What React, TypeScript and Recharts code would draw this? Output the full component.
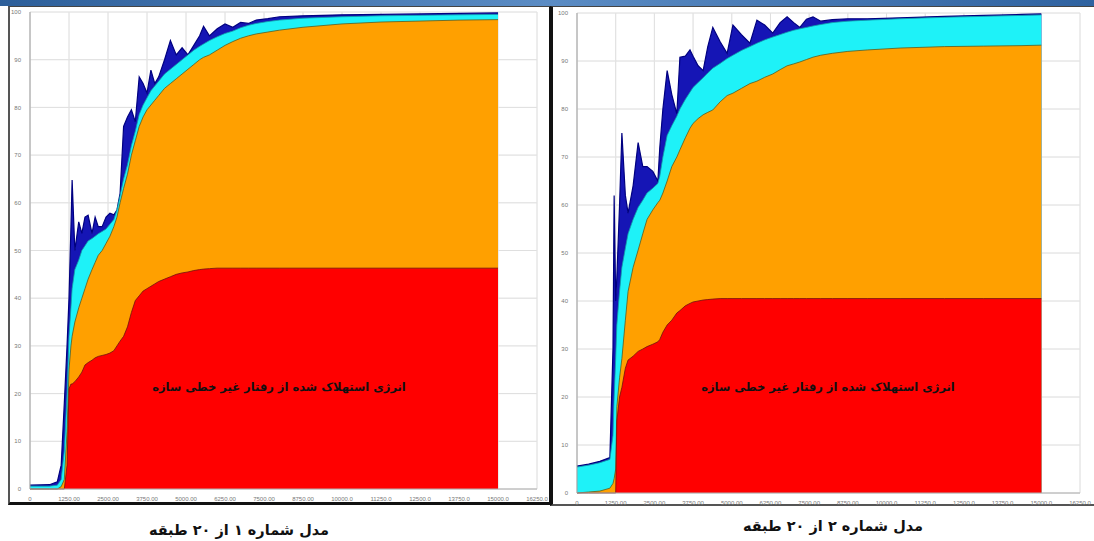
import { AreaChart, Area, XAxis, YAxis, CartesianGrid } from 'recharts';

// x in grid steps, values are the cumulative top of each energy band (%)
const xTicks = [0, 1, 2, 3, 4, 5, 6, 7, 8, 9, 10, 11, 12, 13];
const xTickLabels = ['0', '1250.00', '2500.00', '3750.00', '5000.00', '6250.00', '7500.00', '8750.00', '10000.0', '11250.0', '12500.0', '13750.0', '15000.0', '16250.0'];
const yTicks = [0, 10, 20, 30, 40, 50, 60, 70, 80, 90, 100];

const model1Time = [0, 0.5, 0.7, 0.8, 0.88, 0.95, 1.0, 1.05, 1.08, 1.15, 1.25, 1.33, 1.41, 1.49, 1.59, 1.67, 1.75, 1.85, 1.95, 2.05, 2.15, 2.23, 2.31, 2.4, 2.5, 2.6, 2.7, 2.8, 2.9, 3.0, 3.1, 3.2, 3.3, 3.45, 3.6, 3.75, 3.9, 4.05, 4.2, 4.35, 4.45, 4.6, 4.8, 5.0, 5.2, 5.4, 5.6, 5.8, 6.1, 6.4, 7.0, 8.0, 9.0, 10.0, 11.0, 12.0];
const model1Hysteretic = [0, 0, 0, 0, 0, 5, 21, 22, 22, 22.5, 23.5, 24.5, 26, 26.5, 27, 27.5, 27.8, 28, 28.2, 28.5, 29, 30, 31, 32, 34, 37, 39.5, 40.5, 41.5, 42, 42.5, 43, 43.5, 44, 44.5, 45, 45.3, 45.5, 45.8, 46, 46.1, 46.2, 46.3, 46.3, 46.3, 46.3, 46.3, 46.3, 46.3, 46.3, 46.3, 46.3, 46.3, 46.3, 46.3, 46.3];
const model1Damping = [0, 0, 0, 0.5, 2, 12, 25, 30, 32, 35, 38, 40, 42, 44, 46, 47.5, 49, 50, 51.5, 53, 55, 57, 60, 63, 66, 70, 73, 76, 78, 79.5, 80.5, 81.5, 82.5, 84, 85, 86, 87, 88, 89, 90, 90.5, 91, 92, 93, 93.8, 94.5, 95, 95.4, 95.8, 96.2, 96.8, 97.5, 97.9, 98.1, 98.3, 98.4];
const model1Kinetic = [0.6, 0.6, 0.8, 2, 8, 20, 32, 38, 42, 46, 48, 50, 51, 52, 52.5, 53, 53.5, 54, 54.5, 55.5, 56.5, 58.5, 61.5, 65, 68, 72, 75, 78.5, 80.5, 82, 83.5, 84.5, 85.5, 87, 88, 89, 90, 91, 92, 92.8, 93.3, 94, 94.8, 95.5, 96, 96.7, 97.2, 97.6, 98, 98.3, 98.7, 99, 99.2, 99.3, 99.4, 99.5];
const model1Input = [0.8, 0.9, 1.5, 5, 18, 30, 40, 55, 64.8, 50, 56, 53.6, 57, 57.4, 53.6, 57, 55, 55, 57, 57.8, 57.5, 58.5, 62, 76, 78, 79.5, 77, 86.4, 85, 83, 87.8, 85, 86.4, 90, 94, 91, 92.5, 91, 93, 95, 97, 95, 96.5, 97.5, 96.8, 97.8, 97.6, 98.3, 98.6, 99, 99.2, 99.4, 99.5, 99.6, 99.7, 99.8];

const model2Time = [0, 0.3, 0.59, 0.85, 0.93, 0.96, 1.0, 1.03, 1.1, 1.16, 1.25, 1.32, 1.45, 1.58, 1.7, 1.81, 1.96, 2.09, 2.14, 2.22, 2.33, 2.45, 2.58, 2.66, 2.8, 2.92, 3.0, 3.13, 3.26, 3.38, 3.51, 3.7, 3.88, 4.03, 4.25, 4.47, 4.65, 4.85, 5.06, 5.25, 5.43, 5.6, 5.76, 5.93, 6.1, 6.3, 6.6, 7.0, 7.5, 8.35, 9.5, 10.5, 11.5, 12.0];
const model2Hysteretic = [0, 0, 0, 0, 0, 0, 0, 15, 20, 22, 26, 27.7, 28.5, 29.5, 30, 30.5, 31, 31.5, 32, 33.5, 35, 36, 37.5, 38, 39, 39.5, 39.8, 40, 40.2, 40.3, 40.4, 40.5, 40.5, 40.5, 40.5, 40.5, 40.5, 40.5, 40.5, 40.5, 40.5, 40.5, 40.5, 40.5, 40.5, 40.5, 40.5, 40.5, 40.5, 40.5, 40.5, 40.5, 40.5, 40.5];
const model2Damping = [0, 0.2, 0.4, 1, 2, 3, 5, 18, 24, 28, 36, 42, 47, 50.6, 54, 57, 59, 60.5, 61, 62.5, 65, 68, 70, 71.5, 74, 76, 77, 78, 78.8, 79.3, 79.8, 81.5, 82.8, 83.3, 84.3, 85.3, 85.8, 86.6, 87.3, 88.2, 89, 89.4, 89.8, 90.3, 90.8, 91.2, 91.6, 92, 92.3, 92.7, 93, 93.1, 93.2, 93.3];
const model2Kinetic = [5.4, 5.8, 6.3, 7, 12, 20, 28, 35, 42, 47, 51, 54, 57, 59.5, 61, 62.5, 63.5, 64.5, 66, 70, 74.5, 76.5, 78.5, 80, 82, 83.5, 84.5, 85.5, 86.5, 87.5, 88.5, 89.5, 90.5, 91.2, 92.2, 93, 93.7, 94.4, 95, 95.5, 96, 96.4, 96.7, 97, 97.3, 97.6, 98, 98.3, 98.5, 98.8, 99.1, 99.3, 99.5, 99.6];
const model2Input = [5.6, 6.0, 6.6, 7.4, 30, 62, 40, 45, 60, 75, 62, 58.3, 64, 73, 68, 68, 67, 65, 72, 80, 88, 83, 79, 90.8, 91, 92.3, 91, 89, 88, 93, 97, 94, 91.6, 97.5, 95.5, 93.7, 98.5, 97.5, 95.8, 98, 99.2, 98, 97, 98.7, 99.2, 98.3, 98.6, 98.8, 98.8, 99.0, 99.3, 99.5, 99.7, 99.8];

const bandText = 'انرژی استهلاک شده از رفتار غیر خطی سازه';
const captions = ['مدل شماره ۱ از ۲۰ طبقه', 'مدل شماره ۲ از ۲۰ طبقه'];

const tickStyle = { fontSize: 6, fill: '#777', fontFamily: 'Liberation Sans' };

interface PanelProps {
  time: number[];
  hysteretic: number[];
  damping: number[];
  kinetic: number[];
  input: number[];
  width: number;
  height: number;
  left: number;
  top: number;
  margin: { top: number; right: number; left: number; bottom: number };
  yWidth: number;
  xHeight: number;
}

const Panel = ({ time, hysteretic, damping, kinetic, input, width, height, left, top, margin, yWidth, xHeight }: PanelProps) => {
  const data = time.map((t, i) => ({
    t,
    input: input[i],
    kinetic: kinetic[i],
    damping: damping[i],
    hysteretic: hysteretic[i],
  }));

  return (
    <div style={{ position: 'absolute', left, top, width, height }}>
      <AreaChart width={width} height={height} data={data} margin={margin}>
        <CartesianGrid stroke="#d6d6d6" strokeWidth={1} />
        <XAxis
          type="number"
          dataKey="t"
          domain={[0, 13]}
          ticks={xTicks}
          tickFormatter={(v: number) => xTickLabels[v]}
          tick={tickStyle}
          tickLine={false}
          axisLine={{ stroke: '#b0b0b0' }}
          height={xHeight}
          interval={0}
          tickMargin={2}
        />
        <YAxis
          type="number"
          domain={[0, 100]}
          ticks={yTicks}
          tick={tickStyle}
          tickLine={false}
          axisLine={{ stroke: '#a0a0a0' }}
          width={yWidth}
          tickMargin={3}
        />
        <Area type="linear" dataKey="input" fill="#1515b5" fillOpacity={1} stroke="#000080" strokeWidth={1.2} dot={false} activeDot={false} isAnimationActive={false} />
        <Area type="linear" dataKey="kinetic" fill="#1ef2f8" fillOpacity={1} stroke="#10a0a8" strokeWidth={0.8} dot={false} activeDot={false} isAnimationActive={false} />
        <Area type="linear" dataKey="damping" fill="#ffa000" fillOpacity={1} stroke="#5a5a20" strokeWidth={0.8} dot={false} activeDot={false} isAnimationActive={false} />
        <Area type="linear" dataKey="hysteretic" fill="#ff0000" fillOpacity={1} stroke="#701010" strokeWidth={0.8} dot={false} activeDot={false} isAnimationActive={false} />
        <CartesianGrid stroke="#ffffff" strokeOpacity={0.22} strokeWidth={1} />
      </AreaChart>
    </div>
  );
};

const labelStyle = {
  position: 'absolute' as const,
  direction: 'rtl' as const,
  fontFamily: 'DejaVu Sans',
  fontWeight: 'bold' as const,
  color: '#111',
  whiteSpace: 'nowrap' as const,
  transform: 'translate(-50%, -50%)',
};

export default function App() {
  return (
    <div style={{ position: 'absolute', left: 0, top: 0, width: 1094, height: 541, background: '#fff', overflow: 'hidden' }}>
      <div style={{ position: 'absolute', left: 0, top: 0, width: 1094, height: 6, background: 'linear-gradient(90deg, #2d5f9a, #5b8cc4, #2f62a0)' }} />
      <div style={{ position: 'absolute', left: 8, top: 6, width: 544, height: 499, borderLeft: '2px solid #555', borderTop: '1px solid #444', borderBottom: '3px solid #111', borderRight: '3px solid #111', boxSizing: 'border-box' }} />
      <div style={{ position: 'absolute', left: 550, top: 6, width: 544, height: 500, borderLeft: '3px solid #111', borderTop: '1px solid #444', borderBottom: '2px solid #555', boxSizing: 'border-box' }} />
      <Panel
        time={model1Time}
        hysteretic={model1Hysteretic}
        damping={model1Damping}
        kinetic={model1Kinetic}
        input={model1Input}
        width={538}
        height={495}
        left={10}
        top={7}
        margin={{ top: 5, right: 11, left: 0, bottom: 0 }}
        yWidth={20}
        xHeight={13}
      />
      <Panel
        time={model2Time}
        hysteretic={model2Hysteretic}
        damping={model2Damping}
        kinetic={model2Kinetic}
        input={model2Input}
        width={541}
        height={498}
        left={553}
        top={7}
        margin={{ top: 6, right: 14, left: 0, bottom: 0 }}
        yWidth={24}
        xHeight={12}
      />
      <div style={{ ...labelStyle, left: 279, top: 387, fontSize: 11.5 }}>{bandText}</div>
      <div style={{ ...labelStyle, left: 828, top: 387, fontSize: 11.5 }}>{bandText}</div>
      <div style={{ ...labelStyle, left: 239, top: 530, fontSize: 14.5 }}>{captions[0]}</div>
      <div style={{ ...labelStyle, left: 833, top: 526, fontSize: 14.5 }}>{captions[1]}</div>
    </div>
  );
}
